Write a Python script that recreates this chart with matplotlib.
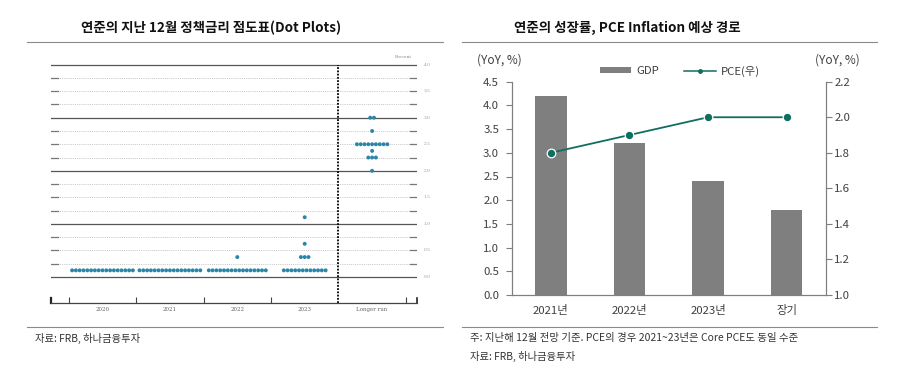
import numpy as np
import matplotlib
matplotlib.use("Agg")
import matplotlib.pyplot as plt
from matplotlib.patches import Patch
from matplotlib.lines import Line2D

plt.rcParams['font.family'] = ['Noto Sans CJK KR', 'DejaVu Sans']

# ---------------- data ----------------
dot_categories = ["2020", "2021", "2022", "2023", "Longer run"]
dots_2020 = [(0.125, 17)]
dots_2021 = [(0.125, 17)]
dots_2022 = [(0.125, 16), (0.375, 1)]
dots_2023 = [(0.125, 12), (0.375, 3), (0.625, 1), (1.125, 1)]
dots_longer = [(2.0, 1), (2.25, 3), (2.375, 1), (2.5, 9), (2.75, 1), (3.0, 2)]
rate_ticks = [0.0, 0.5, 1.0, 1.5, 2.0, 2.5, 3.0, 3.5, 4.0]

bar_categories = ["2021년", "2022년", "2023년", "장기"]
gdp = [4.2, 3.2, 2.4, 1.8]
pce = [1.8, 1.9, 2.0, 2.0]
left_ticks = [0.0, 0.5, 1.0, 1.5, 2.0, 2.5, 3.0, 3.5, 4.0, 4.5]
right_ticks = [1.0, 1.2, 1.4, 1.6, 1.8, 2.0, 2.2]

W, H = 901, 369
fig = plt.figure(figsize=(W / 100, H / 100), dpi=100)

def fx(px):
    return px / W

def fy(py):
    return 1 - py / H

# ---------------- left panel: dot plot ----------------
x0, x1 = -0.764, 4.666
yb, yt = -0.49, 4.2
ax1 = fig.add_axes([fx(51), fy(303), fx(417) - fx(51), fy(54) - fy(303)])
ax1.set_xlim(x0, x1)
ax1.set_ylim(yb, yt)
for s in ["top", "left", "right"]:
    ax1.spines[s].set_visible(False)
ax1.spines["bottom"].set_color("#444444")
ax1.spines["bottom"].set_linewidth(0.9)

px_per_unit = 67.4
end_dash = 7 / px_per_unit
for v in np.arange(0, 4.01, 0.25):
    if abs(v - round(v)) < 1e-9:
        ax1.plot([x0, x1], [v, v], color="#555555", lw=0.9, zorder=1)
    else:
        ax1.plot([x0, x1], [v, v], color="#c4c4c4", lw=0.7,
                 ls=(0, (1, 1.2)), zorder=1)
        ax1.plot([x0, x0 + end_dash], [v, v], color="#777777", lw=0.9, zorder=1)
        ax1.plot([x1 - end_dash, x1], [v, v], color="#777777", lw=0.9, zorder=1)

for r in rate_ticks:
    ax1.text(x1 + 7 / px_per_unit, r, f"{r:.1f}", fontsize=3.2,
             color="#999999", va="center", ha="left", family="DejaVu Serif")
ax1.text(4.47, 4.15, "Percent", fontsize=3.2, color="#888888",
         ha="center", va="center", family="DejaVu Serif")

spacing = 3.8 / px_per_unit
all_dots = [dots_2020, dots_2021, dots_2022, dots_2023, dots_longer]
for i, group in enumerate(all_dots):
    for rate, n in group:
        xs = i + (np.arange(n) - (n - 1) / 2) * spacing
        ax1.scatter(xs, [rate] * n, s=8, color="#2a86a8",
                    edgecolors="none", zorder=3)

ax1.plot([3.5, 3.5], [yb, 4.0], color="black", lw=1.3,
         ls=(0, (1, 0.8)), zorder=2)

ax1.set_xticks(range(len(dot_categories)))
ax1.set_xticklabels(dot_categories, fontsize=4, color="#666666",
                    family="DejaVu Serif")
ax1.tick_params(axis="x", which="major", length=0, pad=3)
ax1.set_xticks([-0.5, 0.5, 1.5, 2.5, 4.5], minor=True)
ax1.tick_params(axis="x", which="minor", direction="in", length=4,
                width=0.8, color="#444444")
ax1.set_yticks([])
ax1.plot([x0, x0], [yb, yb + 0.1], color="#222222", lw=1.6, clip_on=False)
ax1.plot([x1, x1], [yb, yb + 0.1], color="#222222", lw=1.2, clip_on=False)

# ---------------- right panel: bars + line ----------------
ax2 = fig.add_axes([fx(511.5), fy(295), fx(826) - fx(511.5), fy(81.7) - fy(295)])
xpos = np.arange(len(bar_categories))
ax2.bar(xpos, gdp, width=0.4, color="#7f7f7f", zorder=2)
ax2.set_xlim(-0.5, 3.5)
ax2.set_ylim(0, 4.5)
ax2.set_yticks(left_ticks)
ax2.set_yticklabels([f"{v:.1f}" for v in left_ticks])
ax2.set_xticks(xpos)
ax2.set_xticklabels(bar_categories)
ax2.tick_params(axis="y", direction="out", length=4, width=0.8,
                color="#7f7f7f", labelsize=8.2, labelcolor="#404040", pad=5)
ax2.tick_params(axis="x", length=0, labelsize=8.2, labelcolor="#404040", pad=7)
ax2.spines["top"].set_visible(False)
for s in ["left", "bottom", "right"]:
    ax2.spines[s].set_color("#7f7f7f")
    ax2.spines[s].set_linewidth(0.8)

ax3 = ax2.twinx()
ax3.plot(xpos, pce, color="#0f6e60", lw=1.3, marker="o", ms=6.2,
         mfc="#0f6e60", mec="white", mew=0.9, zorder=4)
ax3.set_ylim(1.0, 2.2)
ax3.set_yticks(right_ticks)
ax3.set_yticklabels([f"{v:.1f}" for v in right_ticks])
ax3.tick_params(axis="y", direction="out", length=4, width=0.8,
                color="#7f7f7f", labelsize=8.2, labelcolor="#404040", pad=2)
ax3.spines["top"].set_visible(False)
for s in ["left", "bottom", "right"]:
    ax3.spines[s].set_color("#7f7f7f")
    ax3.spines[s].set_linewidth(0.8)

fig.text(fx(499), fy(60), "(YoY, %)", fontsize=8.5, color="#404040",
         ha="center", va="center")
fig.text(fx(837), fy(60), "(YoY, %)", fontsize=8.5, color="#404040",
         ha="center", va="center")

handles = [Patch(facecolor="#7f7f7f", edgecolor="none", label="GDP"),
           Line2D([0], [0], color="#0f6e60", lw=1.1, marker="o", ms=2.5,
                  label="PCE(우)")]
fig.legend(handles=handles, loc="center", bbox_to_anchor=(fx(680), fy(71)),
           ncol=2, frameon=False, fontsize=8.2, handlelength=2.8,
           handleheight=0.45, handletextpad=0.45, columnspacing=2.2,
           labelcolor="#404040")

# ---------------- titles, rules, notes ----------------
fig.text(fx(211), fy(28), "연준의 지난 12월 정책금리 점도표(Dot Plots)",
         fontsize=9.7, weight="bold", ha="center", va="center", color="#111111")
fig.text(fx(627), fy(28), "연준의 성장률, PCE Inflation 예상 경로",
         fontsize=9.7, weight="bold", ha="center", va="center", color="#111111")

for (xa, xb) in [(27, 443), (462, 877)]:
    for yy in (42, 327):
        fig.add_artist(Line2D([fx(xa), fx(xb)], [fy(yy), fy(yy)],
                              color="#8a8a8a", lw=0.8))

fig.text(fx(35), fy(338), "자료: FRB, 하나금융투자", fontsize=7.4,
         color="#333333", va="center", ha="left")
fig.text(fx(470), fy(338),
         "주: 지난해 12월 전망 기준. PCE의 경우 2021~23년은 Core PCE도 동일 수준",
         fontsize=7.5, color="#333333", va="center", ha="left")
fig.text(fx(470), fy(356), "자료: FRB, 하나금융투자", fontsize=7.4,
         color="#333333", va="center", ha="left")

fig.savefig("out.png", dpi=100)
